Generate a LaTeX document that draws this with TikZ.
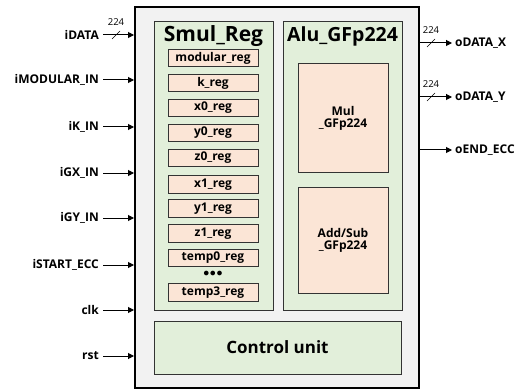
\documentclass[tikz,border=0pt]{standalone}
\usepackage{fontspec}
\setmainfont{Open Sans}
\usetikzlibrary{arrows.meta}
\definecolor{outerfill}{HTML}{F2F2F2}
\definecolor{greenfill}{HTML}{E2EFDA}
\definecolor{peachfill}{HTML}{FBE5D6}
\tikzset{
  px/.style={x=1pt,y=-1pt},
  outerbox/.style={draw=black,line width=1.6pt,fill=outerfill},
  grbox/.style={draw=black!80,line width=1pt,fill=greenfill},
  pebox/.style={draw=black!80,line width=1pt,fill=peachfill},
  reglab/.style={font=\fontsize{12}{12}\selectfont\bfseries},
  sig/.style={font=\fontsize{12}{12}\selectfont\bfseries},
  arr/.style={-{Triangle[length=6pt,width=6pt]},line width=1pt},
  bus/.style={font=\fontsize{9.5}{9.5}\selectfont},
}
\begin{document}
\begin{tikzpicture}[px]
\useasboundingbox (0,0) rectangle (521,390);
% outer
\draw[outerbox] (135,7) rectangle (419,388);
\draw[grbox] (154,22) rectangle (273,310);
\draw[grbox] (283,22) rectangle (402,310);
\draw[grbox] (154,321) rectangle (401,374);
\node[font=\fontsize{21}{21}\selectfont\bfseries] (smul) at (213.5,36) {Smul\_Reg};
\node[font=\fontsize{19.5}{19.5}\selectfont\bfseries] (alu) at (342.5,36) {Alu\_GFp224};
\node[font=\fontsize{17}{17}\selectfont\bfseries] (ctrl) at (277.5,347.5) {Control unit};
% Alu blocks
\draw[pebox] (298,64) rectangle (388,172);
\node[reglab,align=center] (mul) at (343,118) {Mul\\\_GFp224};
\draw[pebox] (298,187) rectangle (388,293);
\node[reglab,align=center] (add) at (343,240) {Add/Sub\\\_GFp224};
% registers
\foreach \n/\y in {modular\_reg/58, k\_reg/83, x0\_reg/108, y0\_reg/133, z0\_reg/158, x1\_reg/184.5, y1\_reg/208.5, z1\_reg/233.5, temp0\_reg/258, temp3\_reg/292.5}{
  \node[pebox,reglab,minimum width=90pt,minimum height=17.5pt,inner sep=0pt] at (213,\y) {\n};
}
\node[reglab] (dots) at (213,274) {$\bullet\!\bullet\!\bullet$};
% inputs
\foreach \n/\l/\y in {idata/iDATA/35, imod/iMODULAR\_IN/80, ik/iK\_IN/127, igx/iGX\_IN/173, igy/iGY\_IN/218, istart/iSTART\_ECC/265, clk/clk/310, rst/rst/356}{
  \node[sig,anchor=east,inner sep=0pt] (\n) at (99,\y) {\l};
  \coordinate (\n e) at (134,\y);
  \draw[arr] (\n.east) ++(4,0) -- (\n e);
}
% outputs
\foreach \n/\l/\y in {odx/oDATA\_X/43, ody/oDATA\_Y/97, oend/oEND\_ECC/150}{
  \node[sig,anchor=west,inner sep=0pt] (\n) at (455,\y) {\l};
  \coordinate (\n s) at (420,\y);
  \draw[arr] (\n s) -- ([xshift=-3pt]\n.west);
}
% bus marks
\draw[line width=0.5pt] (112,39) -- (120,31);
\node[bus] (b1) at (116,22) {224};
\draw[line width=0.5pt] (427,47) -- (435,39);
\node[bus] (b2) at (431,30) {224};
\draw[line width=0.5pt] (427,101) -- (435,93);
\node[bus] (b3) at (431,84) {224};
\end{tikzpicture}
\end{document}
